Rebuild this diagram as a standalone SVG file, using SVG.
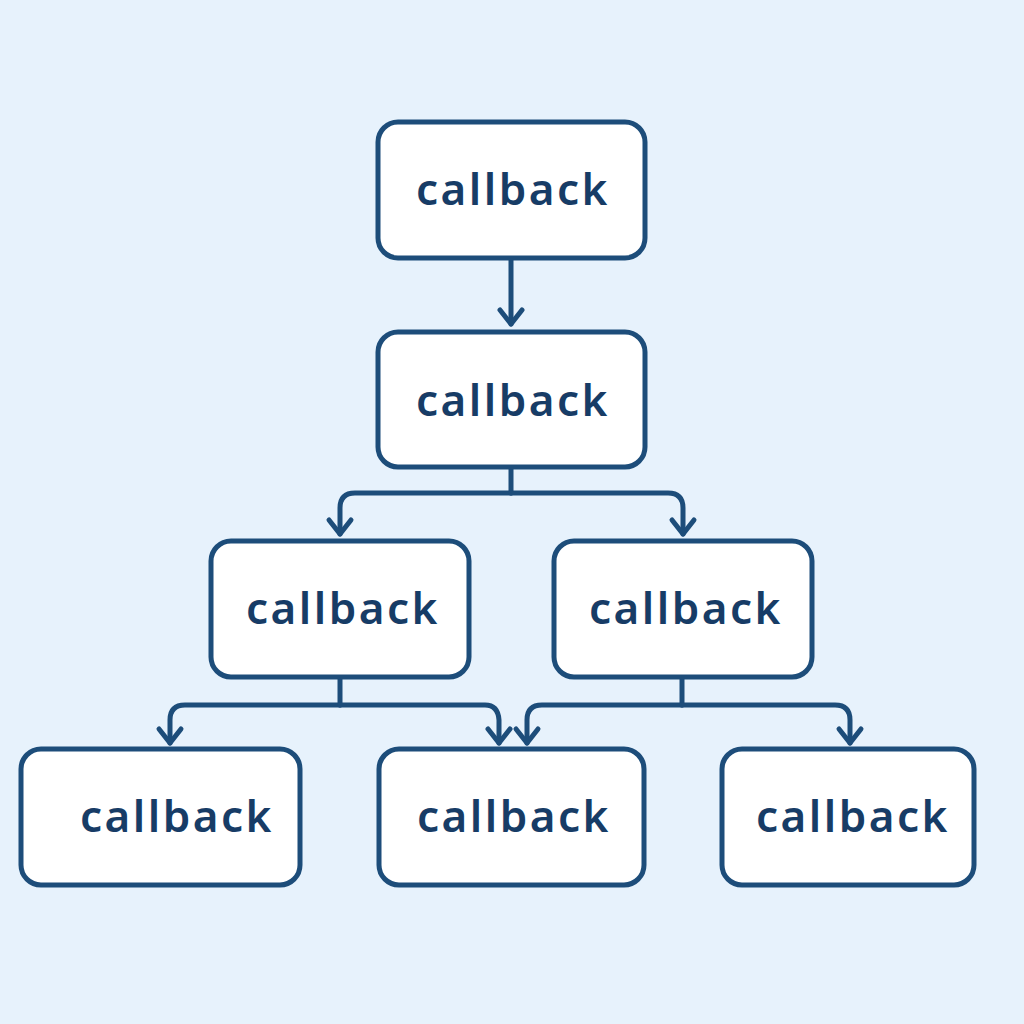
<svg xmlns="http://www.w3.org/2000/svg" width="1024" height="1024" viewBox="0 0 1024 1024">
<defs>
<style>
.node rect{fill:#ffffff;stroke:#1d4d7a;stroke-width:5}
.node text{font-family:"Noto Sans","DejaVu Sans",sans-serif;font-size:44px;font-weight:600;fill:#173c66;text-anchor:middle;letter-spacing:2.5px}
.conn path{fill:none;stroke:#1d4d7a;stroke-width:5;stroke-linejoin:round;stroke-linecap:round}
</style>
<marker id="arr" viewBox="0 0 30 30" refX="25" refY="15" markerWidth="30" markerHeight="30" markerUnits="userSpaceOnUse" orient="auto">
<path d="M11,4 L25,15 L11,26" fill="none" stroke="#1d4d7a" stroke-width="5" stroke-linecap="round" stroke-linejoin="round"/>
</marker>
</defs>
<rect width="1024" height="1024" fill="#e7f2fc"/>
<g id="connectors" class="conn">
<path d="M511,260 V324" marker-end="url(#arr)"/>
<path d="M511,468 V493"/>
<path d="M511,493 H355 Q340,493 340,508 V534" marker-end="url(#arr)"/>
<path d="M511,493 H668 Q683,493 683,508 V534" marker-end="url(#arr)"/>
<path d="M340,678 V705"/>
<path d="M340,705 H185 Q170,705 170,720 V743" marker-end="url(#arr)"/>
<path d="M340,705 H485 Q498,705 499,720 V743" marker-end="url(#arr)"/>
<path d="M682,678 V705"/>
<path d="M682,705 H542 Q527,705 527,720 V743" marker-end="url(#arr)"/>
<path d="M682,705 H835 Q850,705 850,720 V743" marker-end="url(#arr)"/>
</g>
<g id="n1" class="node"><rect x="378" y="122" width="267" height="136" rx="20"/><text x="513" y="205">callback</text></g>
<g id="n2" class="node"><rect x="378" y="332" width="267" height="135" rx="20"/><text x="513" y="416">callback</text></g>
<g id="n3" class="node"><rect x="211" y="541" width="258" height="136" rx="20"/><text x="343" y="624">callback</text></g>
<g id="n4" class="node"><rect x="554" y="541" width="258" height="136" rx="20"/><text x="686" y="624">callback</text></g>
<g id="n5" class="node"><rect x="21" y="749" width="279" height="136" rx="20"/><text x="177" y="832">callback</text></g>
<g id="n6" class="node"><rect x="379" y="749" width="265" height="136" rx="20"/><text x="514" y="832">callback</text></g>
<g id="n7" class="node"><rect x="722" y="749" width="252" height="136" rx="20"/><text x="853" y="832">callback</text></g>
</svg>
